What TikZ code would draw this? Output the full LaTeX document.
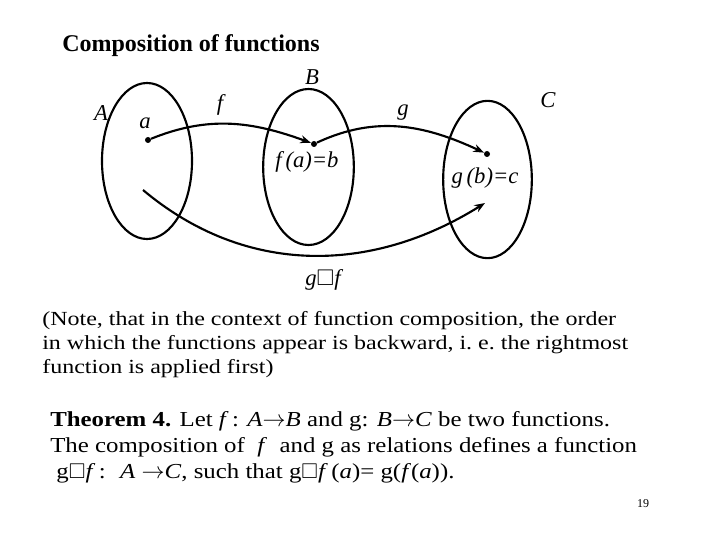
\documentclass[tikz,border=0pt]{standalone}
\usepackage{amsmath,amssymb}
\usepackage{fontspec}
\setmainfont{Liberation Serif}
\newfontfamily\notefont[FakeStretch=1.2]{Liberation Serif}
\newfontfamily\thmfont[FakeStretch=1.165]{Liberation Serif}
\usepackage{tikz}
\usetikzlibrary{shapes.geometric, arrows.meta}

\begin{document}
\begin{tikzpicture}[x=0.75pt, y=0.75pt,
        set/.style={ellipse, draw=black, line width=1.6pt, minimum width=67pt, minimum height=117pt, inner sep=0pt},
        dot/.style={circle, fill=black, inner sep=0pt, minimum size=4.5pt},
        lbl/.style={font=\fontsize{17}{20}\selectfont\itshape, inner sep=0pt},
        arrow/.style={-{Stealth[length=8pt, width=6pt]}, line width=1.6pt, color=black},
        txt/.style={anchor=base west, align=left, inner sep=0pt}
    ]
        \useasboundingbox (0,0) rectangle (720,540);

        \node[txt, font=\fontsize{18}{21}\selectfont\bfseries] (title) at (62,488.5) {Composition of functions};

        \node[set, minimum width=67.5pt, minimum height=117pt] (setA) at (147,379) {};
        \node[set, minimum width=68pt, minimum height=117pt] (setB) at (308.5,373) {};
        \node[set, minimum width=66.5pt, minimum height=118pt] (setC) at (487.5,360.5) {};

        \node[lbl] (labA) at (101,427) {A};
        \node[lbl] (labB) at (312,463) {B};
        \node[lbl] (labC) at (548,440) {C};
        \node[lbl] (labf) at (220,435) {f};
        \node[lbl] (labg) at (403,427) {g};
        \node[lbl] (laba) at (145,417) {a};
        \node[lbl] (labfa) at (307,378) {f\,(a)=b};
        \node[lbl] (labgb) at (485,362) {g\,(b)=c};
        \node[lbl] (labgf) at (323,260) {g$\square$f};

        \node[dot] (ptA) at (148,400) {};
        \node[dot] (ptB) at (314,396) {};
        \node[dot] (ptC) at (487,386) {};
        \coordinate (gfstart) at (143,350);
        \coordinate (gfend) at (485,337);

        \draw[arrow] (ptA) to[out=22, in=160] (ptB);
        \draw[arrow] (ptB) to[out=25, in=155] (ptC);
        \draw[arrow] (gfstart) to[out=-40, in=-148] (gfend);

        \node[txt, font=\fontsize{15}{18}\notefont] (note) at (42,167) {(Note, that in the context of function composition, the order\\in which the functions appear is backward, i.\ e.\ the rightmost\\function is applied first)};

        \node[txt, font=\fontsize{16}{19.5}\thmfont] (thm) at (50,62) {\textbf{Theorem 4.} Let \textit{f}\,: \textit{A}$\rightarrow$\textit{B} and g: \textit{B}$\rightarrow$\textit{C} be two functions.\\The composition of \ \textit{f} \ and g as relations defines a function\\\ g$\square$\textit{f}\,: \ \textit{A} $\rightarrow$\textit{C}, such that g$\square$\textit{f}\,(\textit{a})= g(\textit{f}(\textit{a})).};

        \node[inner sep=0pt, font=\fontsize{9}{11}\selectfont] (page) at (643,36) {19};
    \end{tikzpicture}
\end{document}
